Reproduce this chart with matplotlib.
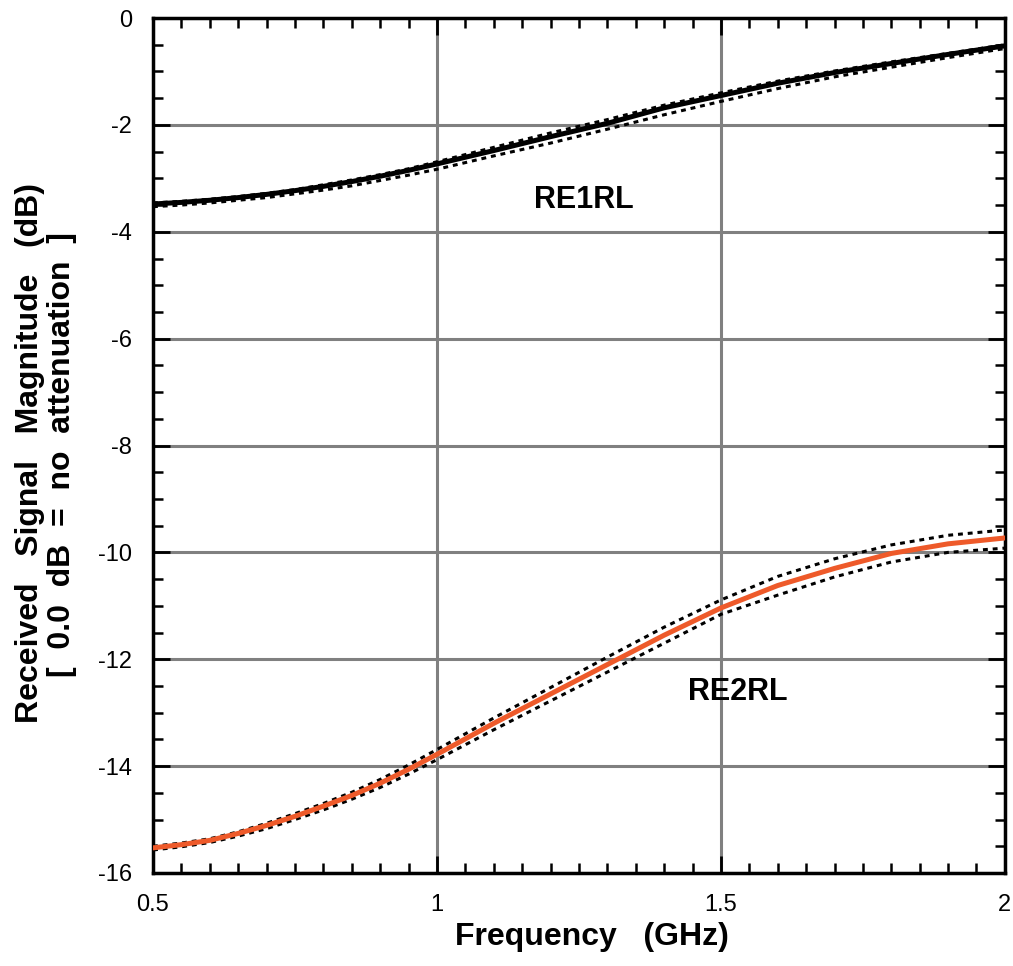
import matplotlib
matplotlib.use('Agg')
import matplotlib.pyplot as plt
from matplotlib.ticker import MultipleLocator

plt.rcParams['font.family'] = 'Liberation Sans'

# Frekans (GHz) ve okunan degerler (dB)
freq = [0.5, 0.55, 0.6, 0.65, 0.7, 0.75, 0.8, 0.85, 0.9, 0.95, 1.0,
        1.1, 1.2, 1.3, 1.4, 1.5, 1.6, 1.7, 1.8, 1.9, 2.0]

re1_mid = [-3.48, -3.45, -3.41, -3.36, -3.30, -3.23, -3.15, -3.06, -2.96, -2.85, -2.73,
           -2.48, -2.22, -1.97, -1.68, -1.45, -1.22, -1.02, -0.85, -0.68, -0.52]
re1_upper = [-3.46, -3.43, -3.39, -3.34, -3.28, -3.21, -3.12, -3.03, -2.93, -2.82, -2.69,
             -2.42, -2.15, -1.90, -1.63, -1.40, -1.18, -0.99, -0.82, -0.66, -0.50]
re1_lower = [-3.53, -3.50, -3.46, -3.41, -3.36, -3.29, -3.22, -3.14, -3.04, -2.94, -2.83,
             -2.58, -2.34, -2.08, -1.81, -1.56, -1.32, -1.10, -0.92, -0.74, -0.57]

re2_mid = [-15.53, -15.47, -15.39, -15.26, -15.11, -14.94, -14.75, -14.55, -14.32, -14.06, -13.78,
           -13.20, -12.65, -12.10, -11.55, -11.04, -10.62, -10.30, -10.02, -9.84, -9.73]
re2_upper = [-15.50, -15.44, -15.36, -15.23, -15.07, -14.89, -14.70, -14.49, -14.25, -13.98, -13.69,
             -13.10, -12.53, -11.96, -11.40, -10.89, -10.45, -10.12, -9.86, -9.68, -9.58]
re2_lower = [-15.57, -15.51, -15.43, -15.31, -15.17, -15.00, -14.82, -14.62, -14.40, -14.15, -13.88,
             -13.32, -12.78, -12.24, -11.70, -11.16, -10.80, -10.46, -10.18, -10.00, -9.92]

fig = plt.figure(figsize=(10.13, 9.66), dpi=100)
ax = fig.add_axes([0.151, 0.0963, 0.841, 0.885])

dots = (0, (1.6, 1.6))

# cizgiler
ax.plot(freq, re1_mid, color='black', lw=3.6, zorder=3)
ax.plot(freq, re1_upper, color='black', lw=2.2, ls=dots, zorder=4)
ax.plot(freq, re1_lower, color='black', lw=2.2, ls=dots, zorder=4)

ax.plot(freq, re2_upper, color='black', lw=2.2, ls=dots, zorder=3)
ax.plot(freq, re2_lower, color='black', lw=2.2, ls=dots, zorder=3)
ax.plot(freq, re2_mid, color='#ee5a2a', lw=3.6, zorder=4)

ax.text(1.259, -3.41, 'RE1RL', fontsize=22, fontweight='bold', ha='center', va='center')
ax.text(1.53, -12.61, 'RE2RL', fontsize=22, fontweight='bold', ha='center', va='center')

ax.set_xlim(0.5, 2)
ax.set_ylim(-16, 0)
ax.xaxis.set_major_locator(MultipleLocator(0.5))
ax.xaxis.set_minor_locator(MultipleLocator(0.05))
ax.yaxis.set_major_locator(MultipleLocator(2))
ax.yaxis.set_minor_locator(MultipleLocator(0.5))
ax.xaxis.set_major_formatter(plt.FuncFormatter(lambda v, p: f'{v:g}'))
ax.yaxis.set_major_formatter(plt.FuncFormatter(lambda v, p: f'{v:g}'))

ax.grid(True, which='major', color='#808080', lw=2.2)
ax.set_axisbelow(True)
for s in ax.spines.values():
    s.set_linewidth(2.5)
ax.tick_params(which='both', direction='in', top=True, right=True, labelsize=17)
ax.tick_params(which='major', length=12, width=2, pad=15)
ax.tick_params(which='minor', length=7, width=1.8)

ax.set_xlabel('Frequency   (GHz)', fontsize=23, fontweight='bold', va='center')
ax.xaxis.set_label_coords((592 - 153) / 852, (873 - 937) / 855)
fig.text(30 / 1013, 1 - 453 / 966, 'Received   Signal   Magnitude   (dB)',
         rotation=90, fontsize=23, fontweight='bold', ha='center', va='center')
fig.text(62 / 1013, 1 - 455 / 966, '[  0.0  dB  =  no  attenuation  ]',
         rotation=90, fontsize=23, fontweight='bold', ha='center', va='center')

fig.savefig('out.png', dpi=100)
